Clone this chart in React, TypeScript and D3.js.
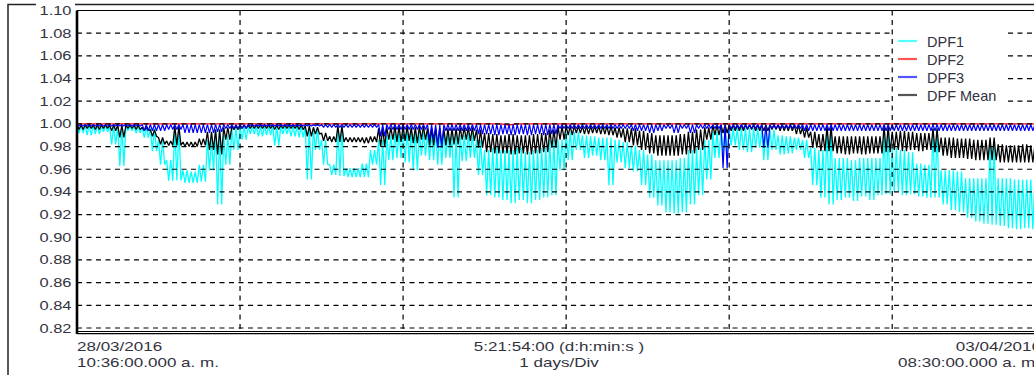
import React from "react";
import * as d3 from "d3";

// time axis in days from 28/03/2016 10:36 to 03/04/2016 08:30
const TOTAL_DAYS = 5.9125;
const STEP = 0.05; // one envelope bin per 0.05 day
const DAY_DIVS = [1, 2, 3, 4, 5];
const Y_TICKS = [1.1, 1.08, 1.06, 1.04, 1.02, 1.0, 0.98, 0.96, 0.94, 0.92, 0.9, 0.88, 0.86, 0.84, 0.82];
const GRID_Y = [1.08, 1.06, 1.04, 1.02, 1.0, 0.98, 0.96, 0.94, 0.92, 0.9, 0.88, 0.86, 0.84, 0.82];

const X_LEFT = ["28/03/2016", "10:36:00.000 a. m."];
const X_MID = ["5:21:54:00 (d:h:min:s )", "1 days/Div"];
const X_RIGHT = ["03/04/2016", "08:30:00.000 a. m."];

const LEGEND = ["DPF1", "DPF2", "DPF3", "DPF Mean"];
const COLORS = ["#00ffff", "#ff0000", "#0000ff", "#000000"];
const LEGEND_COLORS = ["#55ffff", "#ff5555", "#5555ff", "#555555"];

// DPF1 envelope (max / min per bin)
const DPF1_HI = [
  0.999, 0.999, 0.999, 0.998, 0.998, 0.998, 0.998, 0.998, 0.997, 0.996,
  0.986, 0.968, 0.997, 0.959, 0.958, 0.964, 0.986, 0.995, 0.99, 0.996,
  0.998, 0.998, 0.998, 0.998, 0.998, 0.998, 0.998, 0.998, 0.998, 0.996,
  0.986, 0.964, 0.997, 0.961, 0.961, 0.965, 0.977, 0.986, 0.99, 0.993,
  0.995, 0.995, 0.993, 0.992, 0.994, 0.993, 0.991, 0.99, 0.992, 0.986,
  0.977, 0.979, 0.977, 0.977, 0.979, 0.975, 0.977, 0.979, 0.986, 0.986,
  0.993, 0.993, 0.99, 0.989, 0.988, 0.988, 0.986, 0.984, 0.981, 0.977,
  0.973, 0.968, 0.968, 0.968, 0.97, 0.977, 0.979, 0.986, 0.993, 0.995,
  0.996, 0.996, 0.996, 0.996, 0.995, 0.995, 0.99, 0.989, 0.988, 0.986,
  0.979, 0.977, 0.998, 0.97, 0.97, 0.968, 0.97, 0.97, 0.97, 0.995,
  0.979, 0.977, 0.975, 0.965, 0.964, 0.995, 0.959, 0.959, 0.958, 0.952,
  0.952, 0.952, 0.985, 0.952, 0.952, 0.951, 0.951, 0.951, 0.951,
];
const DPF1_LO = [
  0.992, 0.99, 0.991, 0.993, 0.982, 0.963, 0.994, 0.992, 0.988, 0.976,
  0.964, 0.95, 0.95, 0.948, 0.948, 0.949, 0.959, 0.929, 0.964, 0.977,
  0.986, 0.991, 0.989, 0.99, 0.981, 0.991, 0.989, 0.988, 0.951, 0.977,
  0.964, 0.955, 0.954, 0.953, 0.953, 0.953, 0.964, 0.946, 0.968, 0.97,
  0.966, 0.959, 0.972, 0.968, 0.964, 0.97, 0.935, 0.967, 0.97, 0.955,
  0.937, 0.935, 0.933, 0.93, 0.933, 0.93, 0.933, 0.935, 0.937, 0.959,
  0.968, 0.977, 0.97, 0.972, 0.968, 0.946, 0.966, 0.961, 0.958, 0.946,
  0.935, 0.928, 0.922, 0.921, 0.922, 0.929, 0.937, 0.951, 0.97, 0.973,
  0.981, 0.977, 0.975, 0.979, 0.968, 0.977, 0.973, 0.974, 0.977, 0.97,
  0.946, 0.935, 0.929, 0.933, 0.935, 0.932, 0.936, 0.933, 0.937, 0.938,
  0.94, 0.937, 0.938, 0.936, 0.935, 0.935, 0.929, 0.924, 0.922, 0.917,
  0.914, 0.912, 0.911, 0.91, 0.908, 0.907, 0.908, 0.907, 0.907,
];

// DPF2 stays at the 1.00 line
const DPF2 = [
  1.0, 1.0, 1.0, 1.0, 1.0, 1.0, 1.0, 1.0, 1.0, 1.0,
  1.0, 1.0, 1.0, 1.0, 1.0, 1.0, 1.0, 1.0, 1.0, 1.0,
  1.0, 1.0, 1.0, 1.0, 1.0, 1.0, 1.0, 1.0, 1.0, 1.0,
  1.0, 1.0, 1.0, 1.0, 1.0, 1.0, 1.0, 1.0, 1.0, 1.0,
  1.0, 1.0, 1.0, 1.0, 1.0, 1.0, 1.0, 1.0, 1.0, 1.0,
  1.0, 1.0, 1.0, 0.999, 1.0, 1.0, 1.0, 1.0, 1.0, 1.0,
  1.0, 1.0, 1.0, 1.0, 1.0, 1.0, 1.0, 1.0, 1.0, 1.0,
  1.0, 1.0, 1.0, 1.0, 1.0, 1.0, 1.0, 1.0, 1.0, 1.0,
  1.0, 1.0, 1.0, 1.0, 1.0, 1.0, 1.0, 1.0, 1.0, 1.0,
  1.0, 1.0, 1.0, 1.0, 1.0, 1.0, 1.0, 1.0, 1.0, 1.0,
  1.0, 1.0, 1.0, 1.0, 1.0, 1.0, 1.0, 1.0, 1.0, 1.0,
  1.0, 1.0, 1.0, 1.0, 1.0, 1.0, 1.0, 1.0, 1.0,
];

// DPF3 envelope: top near 1.00, bottom per bin
const DPF3_HI = 0.9995;
const DPF3_LO = [
  0.998, 0.998, 0.998, 0.998, 0.998, 0.998, 0.998, 0.998, 0.994, 0.994,
  0.994, 0.995, 0.995, 0.992, 0.992, 0.992, 0.992, 0.993, 0.996, 0.996,
  0.996, 0.998, 0.998, 0.998, 0.998, 0.998, 0.998, 0.998, 0.998, 0.998,
  0.997, 0.997, 0.997, 0.997, 0.997, 0.997, 0.997, 0.989, 0.995, 0.995,
  0.995, 0.995, 0.995, 0.986, 0.979, 0.994, 0.994, 0.994, 0.994, 0.991,
  0.991, 0.99, 0.991, 0.99, 0.991, 0.99, 0.991, 0.99, 0.991, 0.996,
  0.996, 0.996, 0.996, 0.996, 0.996, 0.996, 0.996, 0.996, 0.994, 0.994,
  0.992, 0.994, 0.996, 0.992, 0.996, 0.992, 0.996, 0.996, 0.996, 0.961,
  0.996, 0.996, 0.996, 0.996, 0.979, 0.996, 0.996, 0.996, 0.996, 0.994,
  0.994, 0.994, 0.994, 0.994, 0.994, 0.994, 0.994, 0.994, 0.994, 0.994,
  0.994, 0.994, 0.994, 0.994, 0.994, 0.994, 0.994, 0.994, 0.994, 0.994,
  0.994, 0.994, 0.994, 0.994, 0.994, 0.994, 0.994, 0.994, 0.994,
];

// DPF Mean envelope
const MEAN_HI = [
  0.999, 0.999, 0.999, 0.999, 0.999, 0.999, 0.999, 0.999, 0.997, 0.995,
  0.988, 0.985, 0.998, 0.984, 0.984, 0.987, 0.993, 0.995, 0.997, 0.998,
  0.999, 0.999, 0.999, 0.999, 0.999, 0.999, 0.999, 0.999, 0.998, 0.997,
  0.992, 0.989, 0.998, 0.988, 0.988, 0.988, 0.989, 0.996, 0.997, 0.998,
  0.998, 0.997, 0.998, 0.996, 0.996, 0.996, 0.996, 0.997, 0.997, 0.995,
  0.992, 0.991, 0.99, 0.991, 0.99, 0.99, 0.991, 0.992, 0.995, 0.998,
  0.998, 0.998, 0.998, 0.998, 0.998, 0.998, 0.997, 0.996, 0.996, 0.994,
  0.992, 0.99, 0.99, 0.99, 0.991, 0.993, 0.995, 0.997, 0.999, 0.999,
  0.999, 0.999, 0.999, 0.999, 0.999, 0.999, 0.999, 0.999, 0.999, 0.997,
  0.993, 0.991, 0.998, 0.989, 0.989, 0.989, 0.989, 0.989, 0.989, 0.998,
  0.993, 0.994, 0.993, 0.992, 0.992, 0.996, 0.988, 0.988, 0.987, 0.987,
  0.986, 0.986, 0.988, 0.982, 0.981, 0.981, 0.982, 0.981, 0.981,
];
const MEAN_LO = [
  0.995, 0.996, 0.995, 0.996, 0.994, 0.988, 0.996, 0.995, 0.994, 0.989,
  0.982, 0.981, 0.981, 0.98, 0.98, 0.981, 0.977, 0.973, 0.986, 0.995,
  0.996, 0.996, 0.996, 0.996, 0.995, 0.996, 0.996, 0.995, 0.989, 0.991,
  0.985, 0.984, 0.984, 0.984, 0.984, 0.983, 0.984, 0.98, 0.986, 0.984,
  0.985, 0.983, 0.986, 0.981, 0.981, 0.981, 0.982, 0.986, 0.985, 0.979,
  0.975, 0.974, 0.974, 0.973, 0.974, 0.973, 0.974, 0.975, 0.979, 0.986,
  0.99, 0.992, 0.991, 0.992, 0.991, 0.99, 0.988, 0.984, 0.981, 0.977,
  0.974, 0.972, 0.972, 0.972, 0.973, 0.974, 0.977, 0.986, 0.99, 0.992,
  0.994, 0.994, 0.995, 0.994, 0.994, 0.995, 0.994, 0.994, 0.991, 0.988,
  0.979, 0.976, 0.976, 0.974, 0.973, 0.974, 0.973, 0.974, 0.974, 0.975,
  0.977, 0.976, 0.977, 0.976, 0.977, 0.975, 0.972, 0.97, 0.97, 0.969,
  0.968, 0.968, 0.968, 0.966, 0.966, 0.966, 0.966, 0.966, 0.966,
];

const FONT = "'Liberation Sans', Arial, sans-serif";
const TEXT = "#333340";

export default function App() {
  const width = 1034;
  const height = 375;
  const plot = { left: 77, right: 1041, top: 10.5, bottom: 328, axis: 332 };

  const x = d3.scaleLinear().domain([0, TOTAL_DAYS]).range([plot.left, plot.right]);
  const y = d3.scaleLinear().domain([0.82, 1.1]).range([plot.bottom, plot.top]);

  const line = d3
    .line<[number, number]>()
    .x((d) => x(d[0]))
    .y((d) => y(d[1]));

  // dense trace: the bin's max and min swept back and forth inside each bin
  const zig = (hi: number[] | number, lo: number[]) =>
    lo.flatMap((l, i) => {
      const h = typeof hi === "number" ? hi : hi[i];
      const t = i * STEP;
      return [
        [t, h],
        [t + STEP * 0.25, l],
        [t + STEP * 0.5, h],
        [t + STEP * 0.75, l],
      ] as [number, number][];
    });

  const dpf2Pts = DPF2.map((v, i) => [i * STEP, v] as [number, number]);

  const stretched = (
    s: string,
    tx: number,
    ty: number,
    anchor: string,
    sx = 1.42,
    size = 12
  ) => (
    <text
      key={s + tx + ty}
      transform={`translate(${tx},${ty}) scale(${sx},1)`}
      textAnchor={anchor}
      fontSize={size}
      fontFamily={FONT}
      fill={TEXT}
    >
      {s}
    </text>
  );

  return (
    <svg
      width={width}
      height={height}
      style={{ position: "absolute", left: 0, top: 0, background: "#fff" }}
    >
      <defs>
        <clipPath id="plotClip">
          <rect x={plot.left} y={plot.top} width={plot.right - plot.left} height={plot.axis - plot.top} />
        </clipPath>
      </defs>

      {/* outer frame */}
      <path d="M8,375 V4.5 H36" fill="none" stroke="#222" strokeWidth={1.5} />
      <path d={`M75,4.5 H${width}`} fill="none" stroke="#222" strokeWidth={1.5} />

      {/* data */}
      <g clipPath="url(#plotClip)" fill="none" strokeLinejoin="bevel">
        <path d={line(zig(DPF1_HI, DPF1_LO)) || ""} stroke={COLORS[0]} strokeWidth={1.3} />
        <path d={line(zig(MEAN_HI, MEAN_LO)) || ""} stroke={COLORS[3]} strokeWidth={1.3} />
        <path d={line(dpf2Pts) || ""} stroke={COLORS[1]} strokeWidth={1.4} />
        <path d={line(zig(DPF3_HI, DPF3_LO)) || ""} stroke={COLORS[2]} strokeWidth={1.2} />
      </g>

      {/* grid */}
      <g stroke="#000" strokeWidth={1.2} strokeDasharray="5,4.5">
        {GRID_Y.map((v) => (
          <line key={v} x1={plot.left} x2={width} y1={y(v)} y2={y(v)} />
        ))}
        {DAY_DIVS.map((d) => (
          <line key={d} x1={x(d)} x2={x(d)} y1={plot.top} y2={plot.axis} />
        ))}
      </g>

      {/* plot borders */}
      <line x1={plot.left} x2={width} y1={plot.top} y2={plot.top} stroke="#000" strokeWidth={1} />
      <line x1={plot.left} x2={plot.left} y1={plot.top} y2={plot.axis + 2} stroke="#000" strokeWidth={2.6} />
      <line x1={plot.left} x2={width} y1={plot.axis - 0.5} y2={plot.axis - 0.5} stroke="#000" strokeWidth={1.1} />
      <line x1={plot.left} x2={width} y1={plot.axis + 1.6} y2={plot.axis + 1.6} stroke="#000" strokeWidth={1.1} />

      {/* y tick labels */}
      {Y_TICKS.map((v) => stretched(v.toFixed(2), 71.5, y(v) + 4.5, "end", 1.37))}

      {/* x labels */}
      {stretched(X_LEFT[0], plot.left, 351, "start")}
      {stretched(X_LEFT[1], plot.left, 366.5, "start")}
      {stretched(X_MID[0], (plot.left + plot.right) / 2, 350.5, "middle")}
      {stretched(X_MID[1], (plot.left + plot.right) / 2, 366.5, "middle")}
      {stretched(X_RIGHT[0], 1041, 351, "end")}
      {stretched(X_RIGHT[1], 1040, 366.5, "end")}

      {/* legend */}
      <rect x={894} y={27} width={114} height={77} fill="#fff" />
      {LEGEND.map((name, i) => {
        const ly = 41 + i * 18;
        return (
          <g key={name}>
            <line x1={898} x2={917} y1={ly} y2={ly} stroke={LEGEND_COLORS[i]} strokeWidth={2.2} />
            <text x={927} y={ly + 5.5} fontSize={14.5} fontFamily={FONT} fill={TEXT}>
              {name}
            </text>
          </g>
        );
      })}
    </svg>
  );
}
